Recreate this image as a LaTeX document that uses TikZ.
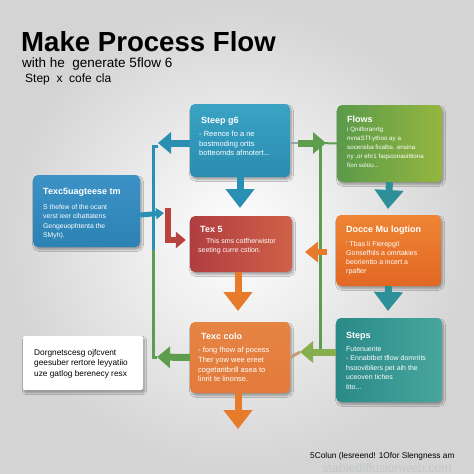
\documentclass[tikz,border=0pt]{standalone}
\usepackage{fontspec}
\setmainfont{Liberation Sans}
\usetikzlibrary{arrows.meta,shadows.blur,calc}
\definecolor{cBlueA}{HTML}{3AA3C4}
\definecolor{cBlueB}{HTML}{2A8CB0}
\definecolor{cBlueC}{HTML}{3C92C6}
\definecolor{cBlueD}{HTML}{2C82B4}
\definecolor{cGreenL}{HTML}{5A9A4A}
\definecolor{cGreenR}{HTML}{95B63F}
\definecolor{cRedL}{HTML}{B03E40}
\definecolor{cRedR}{HTML}{CF6048}
\definecolor{cOrT}{HTML}{EE8434}
\definecolor{cOrB}{HTML}{E26824}
\definecolor{cOr7}{HTML}{E27A3B}
\definecolor{cOr7b}{HTML}{E68444}
\definecolor{cTealL}{HTML}{2A8A88}
\definecolor{cTealR}{HTML}{48A69E}
\definecolor{aBlue}{HTML}{2A90B3}
\definecolor{aTeal}{HTML}{2D8F97}
\definecolor{aOrange}{HTML}{E67B2C}
\definecolor{aGreen}{HTML}{5E9C4E}
\definecolor{aGreenL}{HTML}{86AE4E}
\definecolor{aRed}{HTML}{B8433E}
\definecolor{aTan}{HTML}{C79C74}
\definecolor{aGray}{HTML}{9AA4A8}
\definecolor{wmark}{HTML}{C4C8CA}
\begin{document}
\begin{tikzpicture}[x=1pt,y=-1pt,
  box/.style={rectangle, rounded corners=5pt, inner sep=0pt,
    blur shadow={shadow blur steps=6, shadow xshift=1.5pt, shadow yshift=-2.5pt, shadow opacity=35}},
  ttl/.style={anchor=base west, inner sep=0pt, text=white, font=\bfseries\fontsize{9}{10}\selectfont},
  bod/.style={anchor=north west, inner sep=0pt, text=white, align=left, font=\fontsize{6.5}{9.5}\selectfont},
  downarr/.style={line width=7pt, -{Triangle[width=28pt,length=19pt]}},
  sidearr/.style={line width=7pt, -{Triangle[width=21pt,length=13pt]}},
  thinline/.style={line width=3pt}
]
% background
\shade[inner color=white, outer color=black!17] (0,0) rectangle (474,474);

% title
\node[anchor=base west, inner sep=0pt, font=\bfseries\fontsize{27.6}{30}\selectfont] (title) at (21,51) {Make Process Flow};
\node[anchor=base west, inner sep=0pt, font=\fontsize{13.5}{15}\selectfont] (sub1) at (22,67) {with he\ \ generate 5flow 6};
\node[anchor=base west, inner sep=0pt, font=\fontsize{12}{13}\selectfont] (sub2) at (25,82) {Step\ \ x\ \ cofe\,\,cla};

% boxes
\node[box, minimum width=100pt, minimum height=73pt, top color=cBlueA, bottom color=cBlueB] (b1) at (240,140.5) {};
\node[box, minimum width=105pt, minimum height=77pt, left color=cGreenL, right color=cGreenR] (b2) at (389.5,143.5) {};
\node[box, minimum width=107pt, minimum height=72pt, top color=cBlueC, bottom color=cBlueD] (b3) at (86.5,211) {};
\node[box, minimum width=102pt, minimum height=56pt, left color=cRedL, right color=cRedR] (b4) at (241,244) {};
\node[box, minimum width=105pt, minimum height=71pt, top color=cOrT, bottom color=cOrB] (b5) at (388.5,250.5) {};
\node[box, minimum width=120pt, minimum height=54pt, fill=white, rounded corners=2pt] (b6) at (83,363) {};
\node[box, minimum width=100pt, minimum height=71pt, top color=cOr7b, bottom color=cOr7] (b7) at (240,357.5) {};
\node[box, minimum width=106pt, minimum height=84pt, left color=cTealL, right color=cTealR] (b8) at (389,360) {};

% box texts
\node[ttl] (t1) at (201,123) {Steep g6};
\node[bod, font=\fontsize{7.5}{9.5}\selectfont] (x1) at (199,131) {- Reence fo a ne\\ bostmoding ortts\\ botteomds afmotert...};

\node[ttl] (t2) at (347,122) {Flows};
\node[bod, font=\fontsize{6.2}{9}\selectfont] (x2) at (347,127) {i Qnitforanrtg\\ nvnaSTf-ythoo ay a\\ socensba ficalbs. ensina\\ ny ,or ehr1 faqsconaoittiona\\ fion solou...};

\node[ttl, font=\bfseries\fontsize{9}{10}\selectfont] (t3) at (43,194) {Texc5uagteese tm};
\node[bod, font=\fontsize{6.8}{9.5}\selectfont] (x3) at (43,204) {S thefew of the ocant\\ verst ieer cihattatens\\ Gengeuophtenta the\\ SMyh).};

\node[ttl] (t4) at (200,232) {Tex 5};
\node[bod, font=\fontsize{7}{9}\selectfont] (x4) at (198,238) {\hspace*{8pt}This sms cotfherwistor\\ seeting curre cstion.};

\node[ttl] (t5) at (346,232) {Docce Mu logtion};
\node[bod, font=\fontsize{7}{9}\selectfont] (x5) at (346,241) {' Tbas li Fierepgil\\ Gonsefhils a omrtakies\\ beorientto a incert a\\ rpafter};

\node[bod, text=black, font=\fontsize{8.3}{10.5}\selectfont] (x6) at (34,349) {Dorgnetscesg ojfcvent\\ geesuber rertore leyyatiio\\ uze gatlog berenecy resx};

\node[ttl] (t7) at (201,339) {Texc colo};
\node[bod, font=\fontsize{7.5}{9.7}\selectfont] (x7) at (198,347) {- fong fhow af pocess\\ Ther yow wee ereet\\ cogetaritbrill asea to\\ linrit te linonse.};

\node[ttl] (t8) at (346,338) {Steps};
\node[bod, font=\fontsize{7}{9.5}\selectfont] (x8) at (346,346) {Futenuente\\ - Ennabtbet tflow domrrits\\ hsoovibliers pet aih the\\ uceoven tiches\\ tito...};

% coordinates for free ends
\coordinate (d1) at (240,208);
\coordinate (d2) at (388,209);
\coordinate (d3) at (238,311);
\coordinate (d4) at (388,311);
\coordinate (d5) at (238,429);
\coordinate (lt) at (153,146);
\coordinate (lm) at (153,250);
\coordinate (lb) at (153,357);
\coordinate (a6) at (158,143);
\coordinate (a7) at (157,357);
\coordinate (a8) at (164,213);
\coordinate (rt) at (168,208);
\coordinate (rc) at (168,240);
\coordinate (g1) at (326,143);
\coordinate (g2) at (320,143);
\coordinate (g3) at (320,352);
\coordinate (o1) at (305,252);
\coordinate (a10) at (300,352);

% left vertical line
\draw[thinline, aBlue] (a6 |- lt) -- (lt) -- (lm);
\draw[thinline, aGreen] (lm) -- (lb) -- (a7);
% right vertical line
\draw[thinline, aGreen] (g2) -- (g3);
\draw[line width=2pt, aGreen] (g2) -- (b2.west);

% connectors
\draw[downarr, aBlue] (b1.south) -- (d1);
\draw[downarr, aTeal] (b2.south) -- (d2);
\draw[downarr, aOrange] ($(b4.south)+(-3,0)$) -- (d3);
\draw[downarr, aTeal] (b5.south) -- (d4);
\draw[downarr, aOrange] ($(b7.south)+(-2,0)$) -- (d5);
\draw[sidearr, aBlue] ($(b1.west)+(0,2.5)$) -- (a6);
\draw[sidearr, aGreen] (b7.west) -- (a7);
\draw[line width=5pt, aBlue, -{Triangle[width=11pt,length=8pt]}] ($(b3.east)+(0,4)$) -- (a8);
\draw[line width=6pt, aRed, -{Triangle[width=16pt,length=10pt]}] (rt) -- (rc) -- ($(b4.west)+(-4,-4)$);
\draw[sidearr, aGreen] ($(b1.east)+(8,2.5)$) -- (g1);
\draw[line width=2pt, aGray] ($(b1.east)+(0,2.5)$) -- ++(8,0);
\draw[line width=6pt, aOrange, -{Triangle[width=20pt,length=13pt]}] ($(b5.west)+(-9,1.5)$) -- (o1);
\draw[line width=3pt, aTan] (b7.east) -- (a10 -| 300,0);
\draw[sidearr, aGreenL] ($(b8.west)+(0,-8)$) -- (a10);

% footer
\node[anchor=base west, inner sep=0pt, font=\fontsize{8.3}{9}\selectfont] (foot) at (310,458) {5Colun (lesreend! 1Ofor Slengness am};
\node[anchor=base west, inner sep=0pt, text=wmark, font=\fontsize{12.5}{14}\selectfont] (wm) at (322,472) {stablediffusionweb.com};
\end{tikzpicture}
\end{document}
